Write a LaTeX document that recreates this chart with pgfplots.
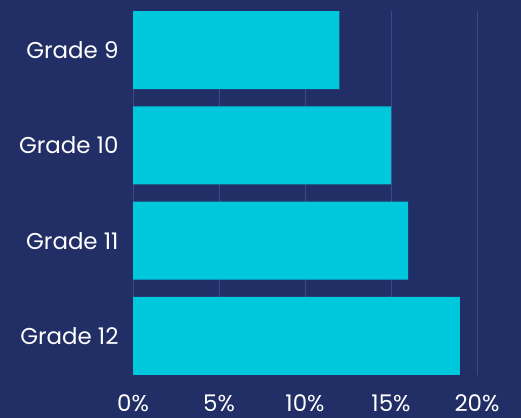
\documentclass[border=0pt]{standalone}
\usepackage{pgfplots}
\pgfplotsset{compat=1.18}
\usepackage{fontspec}
\setmainfont{Poppins}
\definecolor{bg}{HTML}{222E66}
\definecolor{barc}{HTML}{00C8DC}
\definecolor{gridc}{HTML}{3B4A82}
\begin{document}
\begin{tikzpicture}
\path[fill=bg, use as bounding box] (0,0) rectangle (521bp,418bp);
\begin{axis}[
  at={(133bp,43bp)}, anchor=south west,
  scale only axis, width=344bp, height=364bp,
  xbar, bar width=78bp,
  xmin=0, xmax=20, ymin=-0.41, ymax=3.41,
  y dir=reverse,
  ytick={0,1,2,3},
  yticklabels={Grade 9,Grade 10,Grade 11,Grade 12},
  xtick={0,5,10,15,20},
  xticklabels={0\%,5\%,10\%,15\%,20\%},
  axis line style={draw=none},
  major tick length=0pt,
  xmajorgrids, grid style={gridc, line width=0.8bp},
  tick label style={white, font=\fontsize{23}{26}\selectfont},
  yticklabel style={xshift=-11bp},
  xticklabel style={yshift=-16bp},
  axis on top=false,
]
\addplot[fill=barc, draw=none] coordinates {(12,0) (15,1) (16,2) (19,3)};
\end{axis}
\end{tikzpicture}
\end{document}
